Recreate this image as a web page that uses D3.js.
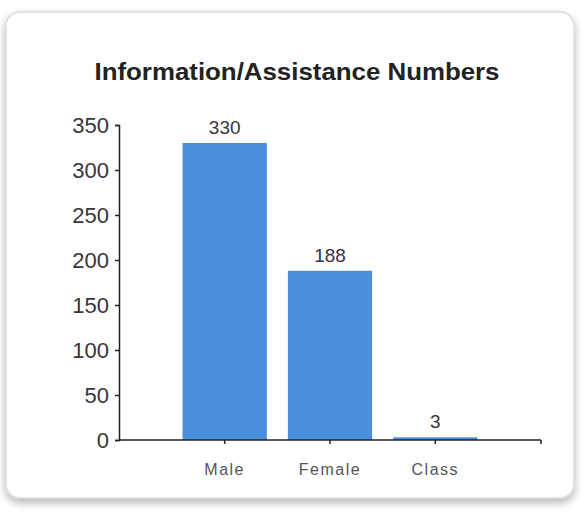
<!DOCTYPE html>
<html><head><meta charset="utf-8">
<script src="https://cdn.jsdelivr.net/npm/d3@7"></script>
<style>body{margin:0;background:#fff}svg{display:block}</style>
</head><body>
<script>
const categories = ["Male", "Female", "Class"];
const values = [330, 188, 3];
const yTicks = [0, 50, 100, 150, 200, 250, 300, 350];
const title = "Information/Assistance Numbers";

const W = 582, H = 518;
const FONT = "Liberation Sans, Arial, sans-serif";
const svg = d3.select("body").append("svg").attr("width", W).attr("height", H);
const defs = svg.append("defs");
const f = defs.append("filter").attr("id","sh").attr("x","-5%").attr("y","-5%").attr("width","110%").attr("height","115%");
f.append("feGaussianBlur").attr("in","SourceAlpha").attr("stdDeviation",4);
f.append("feOffset").attr("dx",0).attr("dy",4).attr("result","b");
f.append("feComponentTransfer").append("feFuncA").attr("type","linear").attr("slope",0.3);
const m = f.append("feMerge"); m.append("feMergeNode"); m.append("feMergeNode").attr("in","SourceGraphic");

svg.append("rect").attr("x",6).attr("y",12).attr("width",568).attr("height",486)
  .attr("rx",14).attr("fill","#fff").attr("stroke","#dcdcdc").attr("stroke-width",1.5)
  .attr("filter","url(#sh)");

svg.append("text").attr("x",297).attr("y",80).attr("text-anchor","middle")
  .attr("font-family",FONT).attr("font-weight","bold")
  .attr("font-size",23).attr("fill","#222")
  .attr("textLength",405).attr("lengthAdjust","spacingAndGlyphs").text(title);

const y = d3.scaleLinear().domain([0,350]).range([440,125]);
const x = d3.scaleBand().domain(categories).range([172,488]).paddingInner(0.2).paddingOuter(0.1);

const yAxis = svg.append("g").attr("transform","translate(119,0)")
  .call(d3.axisLeft(y).tickValues(yTicks).tickSize(4).tickPadding(6));
yAxis.select(".domain").attr("stroke","#222").attr("stroke-width",1.5);
yAxis.selectAll(".tick line").attr("stroke","#222").attr("stroke-width",1.5);
yAxis.selectAll(".tick text").attr("font-family",FONT)
  .attr("font-size",22).attr("fill","#3a3340").attr("dy","0.36em");

svg.selectAll("rect.bar").data(values).join("rect").attr("class","bar")
  .attr("x",(d,i)=>x(categories[i])).attr("width",x.bandwidth())
  .attr("y",d=>y(d)).attr("height",d=>y(0)-y(d)).attr("fill","#4a8fdb");

svg.append("line").attr("x1",119).attr("x2",541).attr("y1",y(0)).attr("y2",y(0))
  .attr("stroke","#222").attr("stroke-width",1.5);
svg.selectAll("line.xt").data(categories).join("line").attr("class","xt")
  .attr("x1",d=>x(d)+x.bandwidth()/2).attr("x2",d=>x(d)+x.bandwidth()/2)
  .attr("y1",y(0)).attr("y2",y(0)+4).attr("stroke","#222").attr("stroke-width",1.5);
svg.append("line").attr("x1",541).attr("x2",541).attr("y1",y(0)).attr("y2",y(0)+4)
  .attr("stroke","#222").attr("stroke-width",1.5);

svg.selectAll("text.cat").data(categories).join("text").attr("class","cat")
  .attr("x",d=>x(d)+x.bandwidth()/2).attr("y",475).attr("text-anchor","middle")
  .attr("font-family",FONT).attr("font-size",16).attr("letter-spacing",1.5)
  .attr("fill","#555").text(d=>d);

svg.selectAll("text.val").data(values).join("text").attr("class","val")
  .attr("x",(d,i)=>x(categories[i])+x.bandwidth()/2).attr("y",d=>y(d)-9)
  .attr("text-anchor","middle").attr("font-family",FONT)
  .attr("font-size",19).attr("fill","#3a3340").text(d=>d);
</script>
</body></html>
